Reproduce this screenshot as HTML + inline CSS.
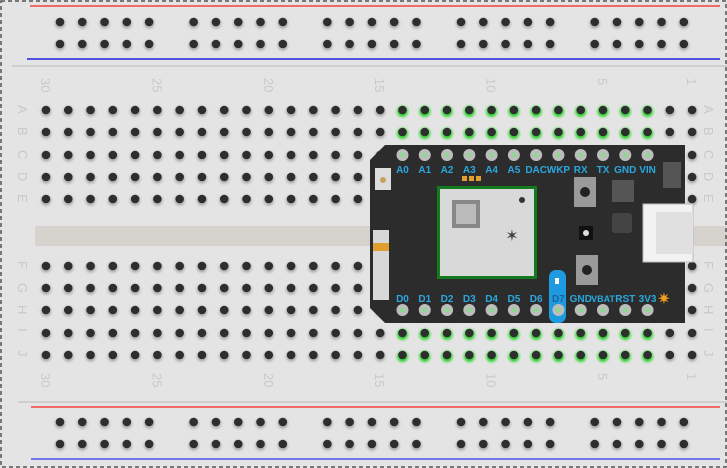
<!DOCTYPE html>
<html><head><meta charset="utf-8"><style>
html,body{margin:0;padding:0;background:#fff}
svg{display:block}
text{font-family:"Liberation Sans",sans-serif}
</style></head><body>
<svg id="s" width="727" height="468" viewBox="0 0 727 468" xmlns="http://www.w3.org/2000/svg">
<defs>
<radialGradient id="halo"><stop offset="0.5" stop-color="#b5b5b5"/><stop offset="1" stop-color="#e4e4e4" stop-opacity="0"/></radialGradient>
<radialGradient id="ghalo"><stop offset="0.5" stop-color="#3fd13f"/><stop offset="1" stop-color="#9fe89f" stop-opacity="0"/></radialGradient>
</defs>
<rect x="0" y="0" width="727" height="468" fill="#e4e4e4"/>
<rect x="35" y="226" width="692" height="20" fill="#d6d3cf"/>
<line x1="12" y1="66" x2="727" y2="66" stroke="#c8c8c8" stroke-width="1.5"/>
<line x1="18" y1="402" x2="727" y2="402" stroke="#c8c8c8" stroke-width="1.5"/>
<line x1="30" y1="6" x2="720" y2="6" stroke="#f06a6a" stroke-width="2"/>
<line x1="27" y1="59" x2="720" y2="59" stroke="#2222dd" stroke-width="1.5"/>
<line x1="31" y1="407" x2="720" y2="407" stroke="#f06a6a" stroke-width="2"/>
<line x1="31" y1="459" x2="720" y2="459" stroke="#7777ee" stroke-width="2"/>
<g id="holes"></g>
<g id="labels" fill="#c9c9c9" font-size="13"></g>
<path d="M385 145 L685 145 L685 323 L385 323 L370 308 L370 160 Z" fill="#2c2c2c"/>
<rect x="643" y="204" width="50" height="58" fill="#f2f2f2" stroke="#bbb"/>
<rect x="656" y="212" width="37" height="42" fill="#e0e0e0"/>
<rect x="373" y="230" width="16" height="70" fill="#d8d8d8"/>
<rect x="373" y="243" width="16" height="8" fill="#e0a030"/>
<rect x="375" y="168" width="16" height="22" fill="#ddd"/><circle cx="383" cy="180" r="3" fill="#c9a060"/>
<rect x="437" y="186" width="100" height="93" fill="#147a1e"/>
<rect x="440" y="189" width="94" height="87" fill="#d9d9d9"/>
<rect x="452" y="200" width="28" height="28" fill="#888"/>
<rect x="456" y="204" width="20" height="20" fill="#bbb"/>
<circle cx="522" cy="200" r="3" fill="#333"/>
<text x="512" y="241" font-size="16" fill="#444" text-anchor="middle">✶</text>
<rect x="574" y="177" width="22" height="30" fill="#9a9a9a"/><circle cx="585" cy="192" r="5" fill="#222"/>
<rect x="576" y="255" width="22" height="30" fill="#9a9a9a"/><circle cx="587" cy="270" r="5" fill="#222"/>
<rect x="579" y="226" width="14" height="14" fill="#111"/><circle cx="586" cy="233" r="3" fill="#ddd"/>
<rect x="612" y="180" width="22" height="22" fill="#555"/>
<rect x="612" y="213" width="20" height="20" fill="#444" rx="3"/>
<rect x="663" y="162" width="18" height="26" fill="#555"/>
<rect x="462" y="176" width="5" height="5" fill="#e0a030"/><rect x="469" y="176" width="5" height="5" fill="#e0a030"/><rect x="476" y="176" width="5" height="5" fill="#e0a030"/>
<rect x="549" y="270" width="17" height="53" rx="7" fill="#1e9be0"/>
<rect x="555" y="278" width="4" height="6" fill="#fff"/>
<text x="664" y="304" font-size="16" fill="#f2a020" text-anchor="middle">✷</text>
<g id="pins"></g>
<g id="plabels" fill="#29a8e0" font-size="10" font-weight="bold" text-anchor="middle"></g>
<rect x="1" y="1" width="725" height="466" fill="none" stroke="#555" stroke-width="1.5" stroke-dasharray="4,3"/>
</svg>
<script>
var NS="http://www.w3.org/2000/svg";
function el(p,t,a,txt){var e=document.createElementNS(NS,t);for(var k in a)e.setAttribute(k,a[k]);if(txt)e.textContent=txt;document.getElementById(p).appendChild(e);return e;}
function hole(x,y,g){el("holes","circle",{cx:x,cy:y+1.5,r:8,fill:g?"url(#ghalo)":"url(#halo)"});el("holes","circle",{cx:x,cy:y,r:4.3,fill:"#2e2e2e"});}
var P=22.28,X0=46;
var rows=[110,132,155,177,199,266,288,310,333,355];
for(var r=0;r<10;r++)for(var c=0;c<30;c++){var x=X0+c*P;var g=(c>=16&&c<=27)&&(r==0||r==1||r==8||r==9);hole(x,rows[r],g);}
[22,44,422,444].forEach(function(y){for(var gI=0;gI<5;gI++)for(var k=0;k<5;k++)hole(60+gI*6*P+k*P,y,false);});
var L="ABCDEFGHIJ";
for(var r=0;r<10;r++){
 el("labels","text",{x:0,y:0,transform:"translate(18,"+(rows[r]-5)+") rotate(90)"},L[r]);
 el("labels","text",{x:0,y:0,transform:"translate(704,"+(rows[r]-5)+") rotate(90)"},L[r]);
}
[[30,0],[25,5],[20,10],[15,15],[10,20],[5,25],[1,29]].forEach(function(n){
 var x=X0+n[1]*P-5;
 el("labels","text",{x:0,y:0,transform:"translate("+x+",78) rotate(90)"},n[0]);
 el("labels","text",{x:0,y:0,transform:"translate("+x+",373) rotate(90)"},n[0]);
});
var topL=["A0","A1","A2","A3","A4","A5","DAC","WKP","RX","TX","GND","VIN"];
var botL=["D0","D1","D2","D3","D4","D5","D6","D7","GND","VBAT","RST","3V3"];
for(var i=0;i<12;i++){var x=X0+(16+i)*P;
 el("pins","circle",{cx:x,cy:155,r:6,fill:"#bdbdbd"});el("pins","circle",{cx:x,cy:155,r:2.5,fill:"#8fd88f"});
 el("pins","circle",{cx:x,cy:310,r:6,fill:"#bdbdbd"});el("pins","circle",{cx:x,cy:310,r:2.5,fill:"#8fd88f"});
 el("plabels","text",{x:x,y:173},topL[i]);
 var t=el("plabels","text",{x:x,y:302,fill:i==7?"#1a5f99":"#29a8e0"},botL[i]);
 if(botL[i].length>3)t.setAttribute("font-size","9");
}
</script>
</body></html>
